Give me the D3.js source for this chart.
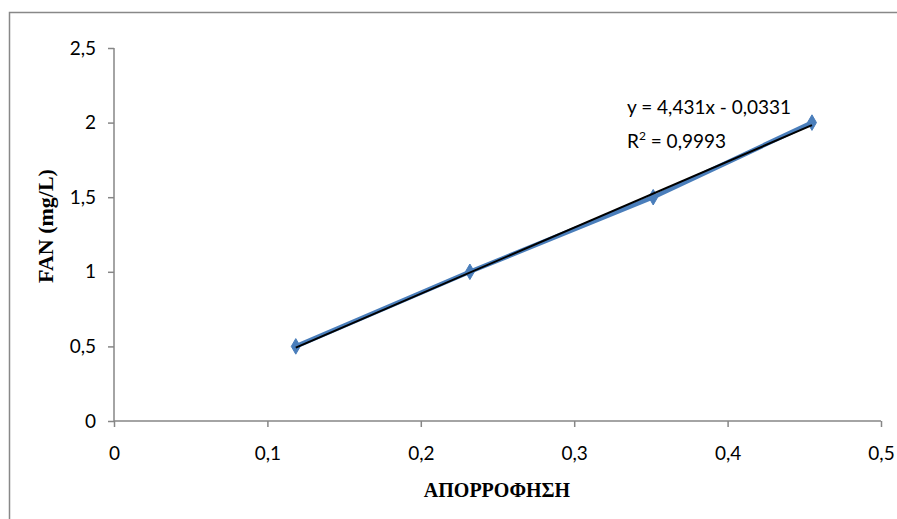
<!DOCTYPE html>
<html><head><meta charset="utf-8">
<script src="https://cdn.jsdelivr.net/npm/d3@7"></script>
<style>body{margin:0;background:#fff}svg{display:block}</style>
</head><body>
<svg id="c" width="897" height="519"></svg>
<script>
const absorbance = [0.1185, 0.232, 0.3515, 0.455];
const fan = [0.5, 1.0, 1.5, 2.0];
const xTicks = [0, 0.1, 0.2, 0.3, 0.4, 0.5];
const yTicks = [0, 0.5, 1, 1.5, 2, 2.5];
const slope = 4.431, intercept = -0.0331;
const eqText = "y = 4,431x - 0,0331";
const r2Text = " = 0,9993";
const xTitle = "ΑΠΟΡΡΟΦΗΣΗ";
const yTitle = "FAN (mg/L)";

const svg = d3.select("#c");
const fmt = d => String(d).replace(".", ",");
const x = d3.scaleLinear().domain([0, 0.5]).range([114, 881]);
const y = d3.scaleLinear().domain([0, 2.5]).range([421, 48]);
const axisColor = "#868686";
const tickFont = "Lato, 'Open Sans', sans-serif";
const serif = "'Liberation Serif', 'Times New Roman', serif";

svg.append("rect").attr("x", 9.5).attr("y", 12.5).attr("width", 900).attr("height", 520)
  .attr("fill", "none").attr("stroke", "#888").attr("stroke-width", 1.5);

const ya = svg.append("g").attr("transform", `translate(${x(0)},0)`)
  .call(d3.axisLeft(y).tickValues(yTicks).tickFormat(fmt).tickSize(6).tickPadding(12));
const xa = svg.append("g").attr("transform", `translate(0,${y(0)})`)
  .call(d3.axisBottom(x).tickValues(xTicks).tickFormat(fmt).tickSize(6).tickPadding(20));
[ya, xa].forEach(g => {
  g.selectAll("line").attr("stroke", axisColor).attr("stroke-width", 1.5);
  g.select(".domain").remove();
  g.selectAll("text").attr("font-family", tickFont).attr("font-size", 19).attr("fill", "#000");
});
svg.append("line").attr("x1", x(0)).attr("x2", x(0)).attr("y1", y(2.5)).attr("y2", y(0))
  .attr("stroke", axisColor).attr("stroke-width", 1.5);
svg.append("line").attr("x1", x(0)).attr("x2", x(0.5)).attr("y1", y(0)).attr("y2", y(0))
  .attr("stroke", axisColor).attr("stroke-width", 1.5);

const pts = absorbance.map((a, i) => [a, fan[i]]);
svg.append("path").datum(pts)
  .attr("d", d3.line().x(d => x(d[0])).y(d => y(d[1])))
  .attr("fill", "none").attr("stroke", "#4A7EBB").attr("stroke-width", 4.5).attr("stroke-linejoin", "round");
svg.selectAll(".m").data(pts).enter().append("path")
  .attr("transform", d => `translate(${x(d[0])},${y(d[1])})`)
  .attr("d", d3.symbol().type(d3.symbolDiamond).size(70))
  .attr("fill", "#4A7EBB").attr("stroke", "#4A7EBB");

const x0 = d3.min(absorbance), x1 = d3.max(absorbance);
svg.append("line")
  .attr("x1", x(x0)).attr("y1", y(slope * x0 + intercept))
  .attr("x2", x(x1)).attr("y2", y(slope * x1 + intercept))
  .attr("stroke", "#000").attr("stroke-width", 2);

svg.append("text").attr("x", 627).attr("y", 114).attr("font-family", tickFont).attr("font-size", 19)
  .text(eqText);
const r = svg.append("text").attr("x", 627).attr("y", 148).attr("font-family", tickFont).attr("font-size", 19);
r.append("tspan").text("R");
r.append("tspan").attr("dy", -8).attr("font-size", 12).text("2");
r.append("tspan").attr("dy", 8).text(r2Text);

svg.append("text").attr("x", 497).attr("y", 497).attr("text-anchor", "middle")
  .attr("font-family", serif).attr("font-weight", "bold").attr("font-size", 20)
  .text(xTitle);
svg.append("text").attr("transform", "translate(53,226) rotate(-90)").attr("text-anchor", "middle")
  .attr("font-family", serif).attr("font-weight", "bold").attr("font-size", 22)
  .text(yTitle);
</script>
</body></html>
